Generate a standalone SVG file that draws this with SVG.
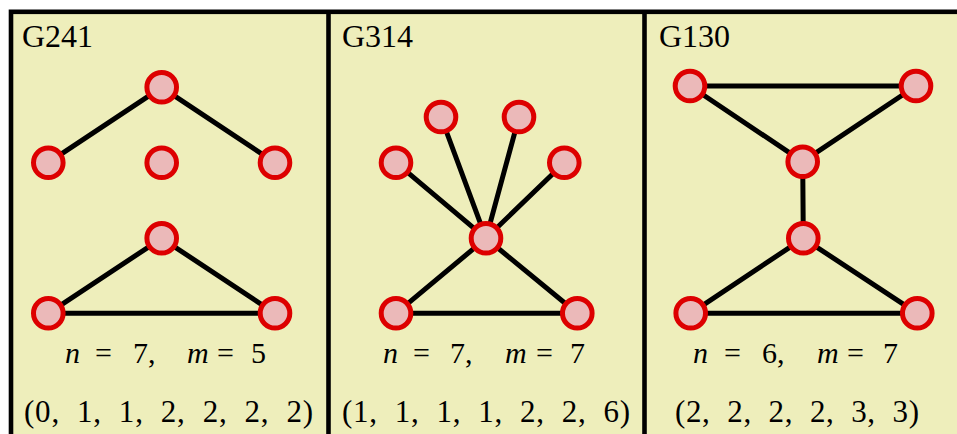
<svg xmlns="http://www.w3.org/2000/svg" width="957" height="434" viewBox="0 0 957 434">
<defs>
<circle id="node" r="14.8" fill="#EBB9B9" stroke="#DD0000" stroke-width="5"/>
</defs>
<rect x="0" y="0" width="957" height="434" fill="#FFFFFF"/>
<rect x="11" y="11.8" width="960" height="440" fill="#EEEEBB"/>
<g id="frame" fill="none" stroke="#000" stroke-width="4.6">
<rect x="11" y="11.8" width="960" height="440"/>
<line x1="328.5" y1="11.8" x2="328.5" y2="434"/>
<line x1="644.5" y1="11.8" x2="644.5" y2="434"/>
</g>
<g id="connectors" stroke="#000" stroke-width="5" stroke-linecap="round">
<line x1="161.7" y1="87.3" x2="48.3" y2="162.7"/>
<line x1="161.7" y1="87.3" x2="275" y2="162.7"/>
<line x1="161.7" y1="238.3" x2="48.3" y2="313.3"/>
<line x1="161.7" y1="238.3" x2="275" y2="313.3"/>
<line x1="48.3" y1="313.3" x2="275" y2="313.3"/>
<line x1="486" y1="238.3" x2="441" y2="117"/>
<line x1="486" y1="238.3" x2="519" y2="117"/>
<line x1="486" y1="238.3" x2="396" y2="162.7"/>
<line x1="486" y1="238.3" x2="564.3" y2="162.7"/>
<line x1="486" y1="238.3" x2="396" y2="313.3"/>
<line x1="486" y1="238.3" x2="577.3" y2="313.3"/>
<line x1="396" y1="313.3" x2="577.3" y2="313.3"/>
<line x1="690" y1="86" x2="916" y2="86"/>
<line x1="690" y1="86" x2="802.7" y2="161.7"/>
<line x1="916" y1="86" x2="802.7" y2="161.7"/>
<line x1="802.7" y1="161.7" x2="803.3" y2="238.3"/>
<line x1="803.3" y1="238.3" x2="690.7" y2="313.3"/>
<line x1="803.3" y1="238.3" x2="917.3" y2="313.3"/>
<line x1="690.7" y1="313.3" x2="917.3" y2="313.3"/>
</g>
<g id="a1"><use href="#node" x="161.7" y="87.3"/></g>
<g id="a2"><use href="#node" x="48.3" y="162.7"/></g>
<g id="a3"><use href="#node" x="161.7" y="162.7"/></g>
<g id="a4"><use href="#node" x="275" y="162.7"/></g>
<g id="a5"><use href="#node" x="161.7" y="238.3"/></g>
<g id="a6"><use href="#node" x="48.3" y="313.3"/></g>
<g id="a7"><use href="#node" x="275" y="313.3"/></g>
<g id="b1"><use href="#node" x="441" y="117"/></g>
<g id="b2"><use href="#node" x="519" y="117"/></g>
<g id="b3"><use href="#node" x="396" y="162.7"/></g>
<g id="b4"><use href="#node" x="564.3" y="162.7"/></g>
<g id="b5"><use href="#node" x="486" y="238.3"/></g>
<g id="b6"><use href="#node" x="396" y="313.3"/></g>
<g id="b7"><use href="#node" x="577.3" y="313.3"/></g>
<g id="c1"><use href="#node" x="690" y="86"/></g>
<g id="c2"><use href="#node" x="916" y="86"/></g>
<g id="c3"><use href="#node" x="802.7" y="161.7"/></g>
<g id="c4"><use href="#node" x="803.3" y="238.3"/></g>
<g id="c5"><use href="#node" x="690.7" y="313.3"/></g>
<g id="c6"><use href="#node" x="917.3" y="313.3"/></g>
<text x="22" y="47" font-size="32" font-family="Liberation Serif">G241</text>
<text x="65" y="363" font-size="30" font-family="Liberation Serif" font-style="italic">n</text>
<text x="95" y="363" font-size="30" font-family="Liberation Serif">=</text>
<text x="133" y="363" font-size="30" font-family="Liberation Serif">7,</text>
<text x="187" y="363" font-size="30" font-family="Liberation Serif" font-style="italic">m</text>
<text x="217" y="363" font-size="30" font-family="Liberation Serif">=</text>
<text x="251" y="363" font-size="30" font-family="Liberation Serif">5</text>
<text x="24" y="422" font-size="31" font-family="Liberation Serif" textLength="289" lengthAdjust="spacing" xml:space="preserve">(0,  1,  1,  2,  2,  2,  2)</text>
<text x="342" y="47" font-size="32" font-family="Liberation Serif">G314</text>
<text x="383" y="363" font-size="30" font-family="Liberation Serif" font-style="italic">n</text>
<text x="413" y="363" font-size="30" font-family="Liberation Serif">=</text>
<text x="450" y="363" font-size="30" font-family="Liberation Serif">7,</text>
<text x="505" y="363" font-size="30" font-family="Liberation Serif" font-style="italic">m</text>
<text x="536" y="363" font-size="30" font-family="Liberation Serif">=</text>
<text x="570" y="363" font-size="30" font-family="Liberation Serif">7</text>
<text x="342" y="422" font-size="31" font-family="Liberation Serif" textLength="288" lengthAdjust="spacing" xml:space="preserve">(1,  1,  1,  1,  2,  2,  6)</text>
<text x="659" y="47" font-size="32" font-family="Liberation Serif">G130</text>
<text x="693" y="363" font-size="30" font-family="Liberation Serif" font-style="italic">n</text>
<text x="724" y="363" font-size="30" font-family="Liberation Serif">=</text>
<text x="762" y="363" font-size="30" font-family="Liberation Serif">6,</text>
<text x="817" y="363" font-size="30" font-family="Liberation Serif" font-style="italic">m</text>
<text x="847" y="363" font-size="30" font-family="Liberation Serif">=</text>
<text x="883" y="363" font-size="30" font-family="Liberation Serif">7</text>
<text x="675" y="422" font-size="31" font-family="Liberation Serif" textLength="244" lengthAdjust="spacing" xml:space="preserve">(2,  2,  2,  2,  3,  3)</text>
</svg>
